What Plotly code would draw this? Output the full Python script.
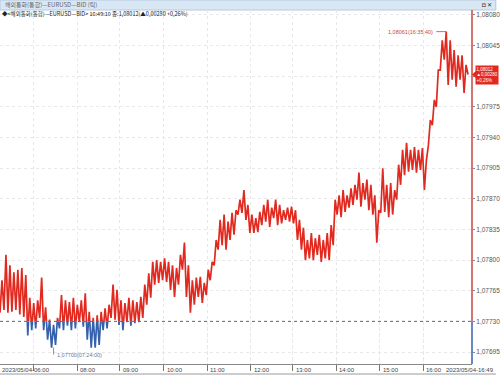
import plotly.graph_objects as go

# ---- data ----
base_price = 1.07730
last_price = 1.08012
hi = [1.07777, 1.07806, 1.07794, 1.07786, 1.07789, 1.07791, 1.07783, 1.07757, 1.07751, 1.07754,
      1.07780, 1.07746, 1.07732, 1.07726, 1.07734, 1.07760, 1.07754, 1.07752, 1.07757, 1.07749,
      1.07754, 1.07762, 1.07741, 1.07734, 1.07737, 1.07741, 1.07745, 1.07749, 1.07772, 1.07766,
      1.07754, 1.07751, 1.07757, 1.07754, 1.07752, 1.07758, 1.07772, 1.07785, 1.07798, 1.07800,
      1.07798, 1.07802, 1.07798, 1.07794, 1.07791, 1.07806, 1.07820, 1.07794, 1.07777, 1.07780,
      1.07781, 1.07774, 1.07789, 1.07798, 1.07823, 1.07846, 1.07852, 1.07844, 1.07854, 1.07857,
      1.07869, 1.07880, 1.07863, 1.07852, 1.07848, 1.07855, 1.07863, 1.07869, 1.07860, 1.07869,
      1.07863, 1.07857, 1.07860, 1.07861, 1.07857, 1.07846, 1.07837, 1.07823, 1.07831, 1.07825,
      1.07829, 1.07823, 1.07831, 1.07840, 1.07869, 1.07874, 1.07880, 1.07874, 1.07882, 1.07886,
      1.07900, 1.07888, 1.07892, 1.07886, 1.07874, 1.07857, 1.07905, 1.07886, 1.07888, 1.07880,
      1.07909, 1.07926, 1.07934, 1.07926, 1.07929, 1.07926, 1.07928, 1.07914, 1.07960, 1.07983,
      1.08017, 1.08051, 1.08061, 1.08051, 1.08040, 1.08034, 1.08034, 1.08023]
lo = [1.07740, 1.07743, 1.07740, 1.07741, 1.07743, 1.07738, 1.07735, 1.07714, 1.07720, 1.07722,
      1.07734, 1.07720, 1.07709, 1.07700, 1.07703, 1.07722, 1.07720, 1.07725, 1.07720, 1.07722,
      1.07729, 1.07724, 1.07709, 1.07700, 1.07700, 1.07703, 1.07720, 1.07722, 1.07734, 1.07732,
      1.07726, 1.07720, 1.07729, 1.07725, 1.07728, 1.07729, 1.07734, 1.07749, 1.07757, 1.07772,
      1.07774, 1.07777, 1.07775, 1.07766, 1.07758, 1.07772, 1.07789, 1.07758, 1.07740, 1.07749,
      1.07758, 1.07751, 1.07760, 1.07777, 1.07794, 1.07812, 1.07817, 1.07812, 1.07823, 1.07829,
      1.07852, 1.07854, 1.07846, 1.07831, 1.07831, 1.07832, 1.07840, 1.07844, 1.07838, 1.07848,
      1.07840, 1.07842, 1.07846, 1.07844, 1.07842, 1.07823, 1.07812, 1.07800, 1.07802, 1.07800,
      1.07806, 1.07798, 1.07802, 1.07800, 1.07817, 1.07852, 1.07849, 1.07855, 1.07860, 1.07863,
      1.07869, 1.07861, 1.07869, 1.07857, 1.07852, 1.07820, 1.07854, 1.07855, 1.07849, 1.07852,
      1.07869, 1.07886, 1.07897, 1.07901, 1.07903, 1.07900, 1.07903, 1.07880, 1.07931, 1.07954,
      1.07975, 1.08017, 1.08029, 1.08000, 1.08006, 1.07998, 1.08006, 1.07991]

y_ticks = [1.07695, 1.07730, 1.07765, 1.07800, 1.07835, 1.07870, 1.07905, 1.07940, 1.07975, 1.08010, 1.08045, 1.08080]
y_ticktext = ["1,07695", "1,07730", "1,07765", "1,07800", "1,07835", "1,07870", "1,07905", "1,07940", "1,07975", "", "1,08045", "1,08080"]
hour_tick_idx = [17, 39, 60.5, 82.5, 104.5, 126.5, 147.5, 169.5, 191.5, 213.5]
hour_labels = ["", "08:00", "09:00", "10:00", "11:00", "12:00", "13:00", "14:00", "15:00", "16:00"]
low_label = "1,07700(07:24:00)"
low_idx, low_price = 27, 1.07700
high_label = "1,08061(16:35:40)"
high_idx, high_price = 225, 1.08061

prices = []
for h, l in zip(hi, lo):
    prices += [l, h]
prices.append(last_price)
idx = list(range(len(prices)))

ymin, ymax = 1.076813, 1.080857
xmax = 238
d = (base_price - ymin) / (ymax - ymin)

RED = "#e2291f"
BLUE = "#3560ac"
FONT = "Liberation Sans, Noto Sans CJK KR, sans-serif"

fig = go.Figure()
fig.add_trace(go.Scatter(x=idx, y=prices, xaxis="x", yaxis="y2", mode="lines",
                         line=dict(color=RED, width=1.7), hoverinfo="skip"))
fig.add_trace(go.Scatter(x=idx, y=prices, xaxis="x", yaxis="y3", mode="lines",
                         line=dict(color=BLUE, width=1.7), hoverinfo="skip"))

H = 376 - 10 - 12
W = 476

fig.update_layout(
    width=500, height=376,
    margin=dict(l=0, r=24, t=10, b=12),
    paper_bgcolor="white", plot_bgcolor="rgba(0,0,0,0)",
    showlegend=False,
    font=dict(family=FONT, size=6, color="#444"),
    xaxis=dict(range=[0, xmax], anchor="y", tickvals=hour_tick_idx, ticktext=hour_labels,
               showticklabels=False, ticks="outside", ticklen=6, tickcolor="#777",
               showgrid=True, gridcolor="#e8e8e8", griddash="dot", gridwidth=1,
               showline=True, linecolor="#888", linewidth=1, zeroline=False, fixedrange=True),
    yaxis=dict(range=[ymin, ymax], domain=[0, 1], anchor="x", side="right",
               tickvals=y_ticks, ticktext=y_ticktext, ticks="outside", ticklen=2, tickcolor="#888",
               tickfont=dict(size=6.5, color="#555"),
               showgrid=True, gridcolor="#e8e8e8", griddash="dot", gridwidth=1,
               zeroline=False, showline=False),
    yaxis2=dict(range=[base_price, ymax], domain=[d, 1], anchor="x", visible=False),
    yaxis3=dict(range=[ymin, base_price], domain=[0, d], anchor="x", visible=False),
)

shapes = []
# baseline
shapes.append(dict(type="line", xref="paper", yref="y", x0=0, x1=1, y0=base_price, y1=base_price,
                   line=dict(color="#666", width=1, dash="dot")))
# right border coloured like the series
shapes.append(dict(type="line", xref="paper", yref="y", x0=1, x1=1, y0=base_price, y1=ymax,
                   line=dict(color="#c9463f", width=1.5)))
shapes.append(dict(type="line", xref="paper", yref="y", x0=1, x1=1, y0=ymin, y1=base_price,
                   line=dict(color=BLUE, width=1.5)))
# title bar
shapes.append(dict(type="rect", xref="paper", yref="paper", x0=0, x1=500 / W, y0=1, y1=1 + 10 / H,
                   fillcolor="#d9e7f4", line=dict(color="#b3c9e0", width=1), layer="below"))
# bottom strip
shapes.append(dict(type="line", xref="paper", yref="paper", x0=0, x1=500 / W, y0=-10 / H, y1=-10 / H,
                   line=dict(color="#9a9a9a", width=1)))
# last price arrow
shapes.append(dict(type="path", xref="paper", yref="y",
                   path=f"M 1.0 {last_price} L {1 + 6 / W} {last_price + 0.00006} L {1 + 6 / W} {last_price - 0.00006} Z",
                   fillcolor=RED, line=dict(width=0)))
# min / max markers
shapes.append(dict(type="line", xref="x", yref="y", x0=low_idx, x1=low_idx, y0=low_price, y1=low_price - 0.00008,
                   line=dict(color="#5a78b0", width=0.8)))
shapes.append(dict(type="line", xref="x", yref="y", x0=high_idx - 5, x1=high_idx, y0=high_price, y1=high_price,
                   line=dict(color="#c9463f", width=0.8)))
fig.update_layout(shapes=shapes)

ann = []
ann.append(dict(xref="paper", yref="paper", x=0.006, y=1 + 5 / H, text="해외통화(통합)—EURUSD—BID (틱)",
                showarrow=False, xanchor="left", yanchor="middle",
                font=dict(size=6, color="#666", family="Noto Sans CJK KR")))
ann.append(dict(xref="paper", yref="paper", x=498 / W, y=1 + 5 / H, text="◘ ✕",
                showarrow=False, xanchor="right", yanchor="middle", font=dict(size=6, color="#333")))
ann.append(dict(xref="paper", yref="paper", x=0.0, y=1 - 3.5 / H,
                text="◆<해외통화(통합)—EURUSD—BID> 16:49:10 종:1,08012(▲0,00280 +0,26%)",
                showarrow=False, xanchor="left", yanchor="middle",
                font=dict(size=5.5, color="#222", family="Noto Sans CJK KR")))
for t, lab in zip(hour_tick_idx, hour_labels):
    if lab:
        ann.append(dict(xref="x", yref="paper", x=t, y=-5.5 / H, text=lab, showarrow=False,
                        xanchor="left", yanchor="middle", xshift=1, font=dict(size=6, color="#444")))
ann.append(dict(xref="paper", yref="paper", x=0, y=-5.5 / H, text="2023/05/04-06:00", showarrow=False,
                xanchor="left", yanchor="middle", font=dict(size=6, color="#444")))
ann.append(dict(xref="paper", yref="paper", x=500 / W, y=-5.5 / H, text="2023/05/04-16:49", showarrow=False,
                xanchor="right", yanchor="middle", font=dict(size=6, color="#444")))
ann.append(dict(xref="x", yref="y", x=low_idx + 0.8, y=low_price - 0.00008, text=low_label, showarrow=False,
                xanchor="left", yanchor="middle", font=dict(size=5.5, color="#5a78b0")))
ann.append(dict(xref="x", yref="y", x=high_idx - 5.5, y=high_price, text=high_label, showarrow=False,
                xanchor="right", yanchor="middle", font=dict(size=5.5, color="#c9463f")))
ann.append(dict(xref="paper", yref="y", x=1 + 3 / W, y=last_price, text="1,08012<br>▲0,00280<br>+0,26%",
                showarrow=False, xanchor="left", yanchor="middle", align="left",
                bgcolor=RED, borderpad=0.5, font=dict(size=4.5, color="white")))
fig.update_layout(annotations=ann)

fig.write_html("out.html")
